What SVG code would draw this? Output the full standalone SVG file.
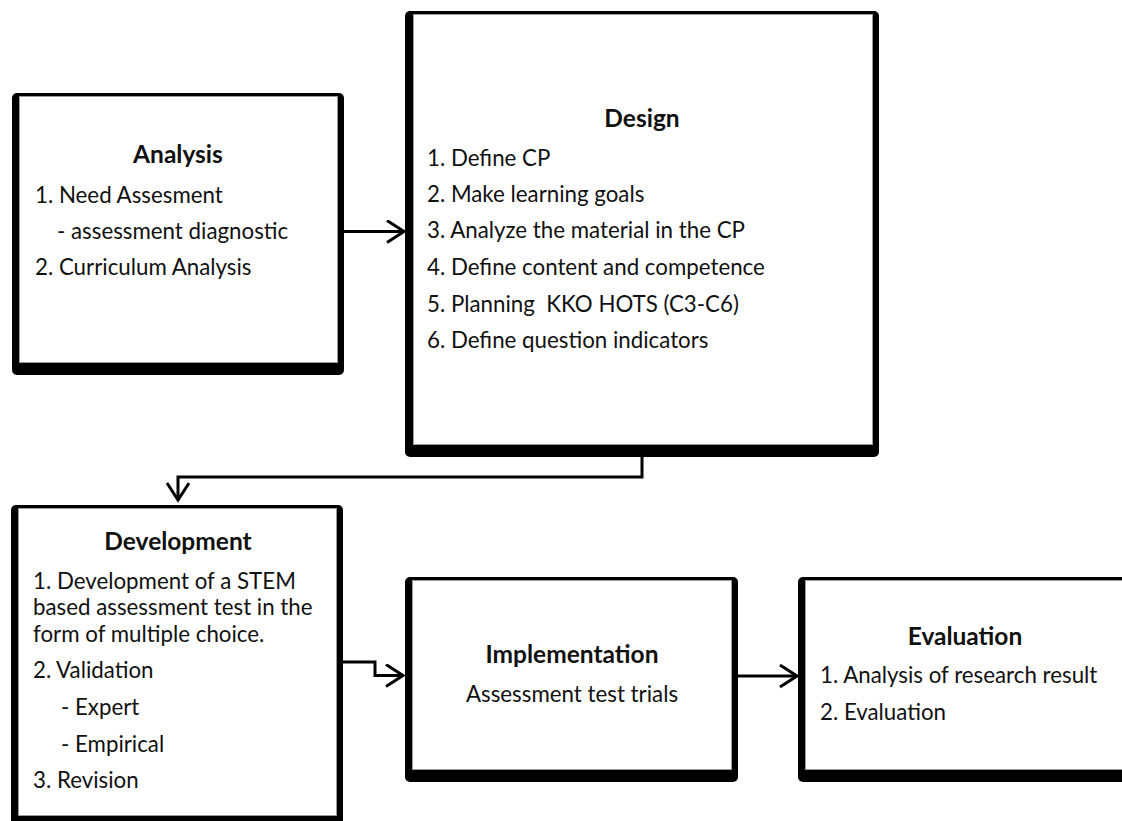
<svg xmlns="http://www.w3.org/2000/svg" width="1122" height="821" viewBox="0 0 1122 821">
<style>
.outer{fill:#000}
.inner{fill:#fff;stroke:#9a9a9a;stroke-width:1}
text{font-family:Lato,"Liberation Sans",sans-serif;font-size:22.3px;fill:#111}
.t{font-weight:bold;text-anchor:middle;font-size:24.5px}
.c{text-anchor:middle}
.conn{fill:none;stroke:#000;stroke-width:3}
</style>
<defs>
<marker id="arr" markerUnits="userSpaceOnUse" markerWidth="24" markerHeight="28" refX="18" refY="12" orient="auto">
<path d="M1,1 L18,12 L1,23" fill="none" stroke="#000" stroke-width="3"/>
</marker>
</defs>
<rect width="1122" height="821" fill="#fff"/>
<g id="analysis">
<rect class="outer" x="12" y="93" width="332" height="282" rx="5"/>
<rect class="inner" x="19.5" y="96.5" width="318" height="266"/>
<text class="t" x="178" y="163">Analysis</text>
<text x="35" y="203">1. Need Assesment</text>
<text x="57" y="239">- assessment diagnostic</text>
<text x="35" y="275">2. Curriculum Analysis</text>
</g>
<g id="design">
<rect class="outer" x="405" y="11" width="474" height="446" rx="5"/>
<rect class="inner" x="413.5" y="14.5" width="459" height="430"/>
<text class="t" x="642" y="127">Design</text>
<text x="427" y="166">1. Define CP</text>
<text x="427" y="202">2. Make learning goals</text>
<text x="427" y="238">3. Analyze the material in the CP</text>
<text x="427" y="275">4. Define content and competence</text>
<text x="427" y="312" xml:space="preserve">5. Planning  KKO HOTS (C3-C6)</text>
<text x="427" y="348">6. Define question indicators</text>
</g>
<g id="development">
<rect class="outer" x="11" y="505" width="332" height="330" rx="5"/>
<rect class="inner" x="18.5" y="508.5" width="318" height="307"/>
<text class="t" x="178" y="550">Development</text>
<text x="33" y="589">1. Development of a STEM</text>
<text x="33" y="615">based assessment test in the</text>
<text x="33" y="642">form of multiple choice.</text>
<text x="33" y="678">2. Validation</text>
<text x="61" y="715">- Expert</text>
<text x="61" y="752">- Empirical</text>
<text x="33" y="788">3. Revision</text>
</g>
<g id="implementation">
<rect class="outer" x="405" y="577" width="333" height="205" rx="5"/>
<rect class="inner" x="412.5" y="580.5" width="319" height="189"/>
<text class="t" x="572" y="663">Implementation</text>
<text class="c" x="572" y="702">Assessment test trials</text>
</g>
<g id="evaluation">
<rect class="outer" x="798" y="577" width="334" height="205" rx="5"/>
<rect class="inner" x="805.5" y="580.5" width="320" height="189"/>
<text class="t" x="965" y="645">Evaluation</text>
<text x="820" y="683">1. Analysis of research result</text>
<text x="820" y="720">2. Evaluation</text>
</g>
<g id="connectors">
<path class="conn" d="M344,231.5 H404" marker-end="url(#arr)"/>
<path class="conn" d="M642,457 V477 H178 V500" marker-end="url(#arr)"/>
<path class="conn" d="M343,662 H375 V675.5 H403" marker-end="url(#arr)"/>
<path class="conn" d="M738,676 H797" marker-end="url(#arr)"/>
</g>
</svg>
